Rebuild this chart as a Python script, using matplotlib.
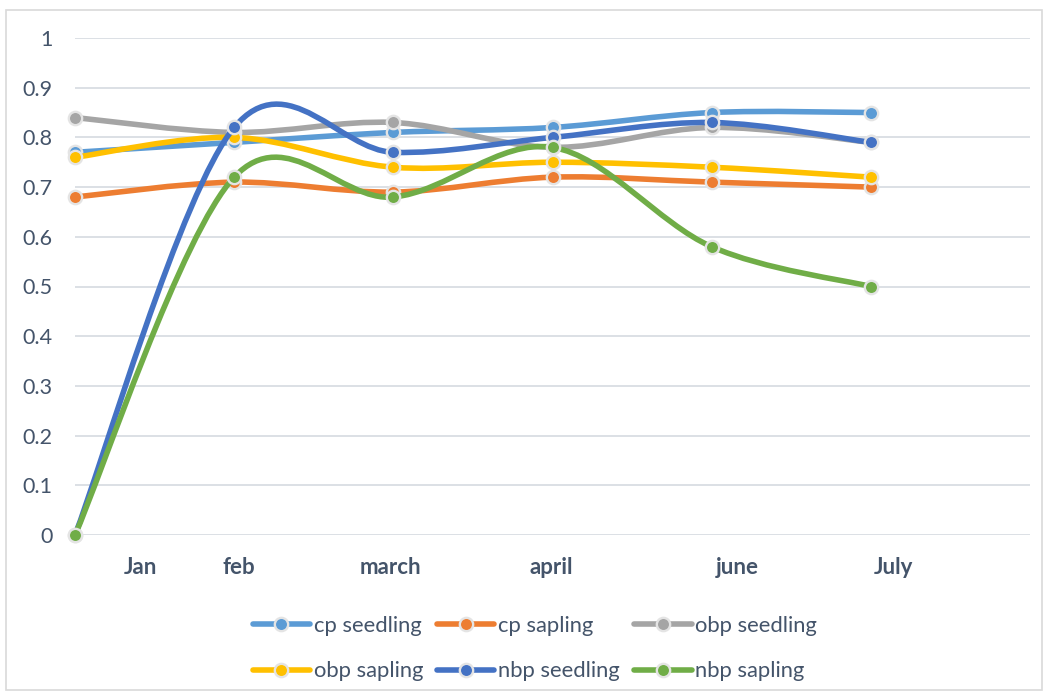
import numpy as np
import matplotlib.pyplot as plt
from matplotlib.path import Path
from matplotlib.patches import PathPatch, Rectangle
from matplotlib.lines import Line2D

plt.rcParams['font.family'] = ['Lato', 'DejaVu Sans']

# data
months = ["Jan", "feb", "march", "april", "june", "July"]
label_pos = [0.41, 1.03, 1.98, 2.99, 4.16, 5.14]
x_pts = [0, 1, 2, 3, 4, 5]

cp_seedling = [0.77, 0.79, 0.81, 0.82, 0.85, 0.85]
cp_sapling = [0.68, 0.71, 0.69, 0.72, 0.71, 0.70]
obp_seedling = [0.84, 0.81, 0.83, 0.78, 0.82, 0.79]
obp_sapling = [0.76, 0.80, 0.74, 0.75, 0.74, 0.72]
nbp_seedling = [0.0, 0.82, 0.77, 0.80, 0.83, 0.79]
nbp_sapling = [0.0, 0.72, 0.68, 0.78, 0.58, 0.50]

names = ["cp seedling", "cp sapling", "obp seedling",
         "obp sapling", "nbp seedling", "nbp sapling"]
series = [cp_seedling, cp_sapling, obp_seedling,
          obp_sapling, nbp_seedling, nbp_sapling]
colors = ["#5B9BD5", "#ED7D31", "#A5A5A5", "#FFC000", "#4472C4", "#70AD47"]

text_col = "#44546A"
grid_col = "#D9DDE3"
edge_col = "#E4E4E4"
LW = 4.0
MS = 9.6
MEW = 1.7


def smooth_path(xs, ys):
    # catmull-rom style bezier, like excel's smoothed line
    pts = np.column_stack([np.asarray(xs, float), np.asarray(ys, float)])
    n = len(pts)
    verts = [pts[0]]
    codes = [Path.MOVETO]
    for i in range(n - 1):
        p0 = pts[i - 1] if i > 0 else pts[i]
        p1 = pts[i]
        p2 = pts[i + 1]
        p3 = pts[i + 2] if i + 2 < n else pts[i + 1]
        c1 = p1 + (p2 - p0) / 6
        c2 = p2 - (p3 - p1) / 6
        verts += [c1, c2, p2]
        codes += [Path.CURVE4] * 3
    return Path(np.array(verts), codes)


W, H = 1048, 697
fig = plt.figure(figsize=(W / 100, H / 100), dpi=100)
ax_l, ax_r, ax_t, ax_b = 75, 1030, 38, 535
ax = fig.add_axes([ax_l / W, 1 - ax_b / H, (ax_r - ax_l) / W, (ax_b - ax_t) / H])
ax.set_xlim(0, 6.0)
ax.set_ylim(0, 1)

for s in ax.spines.values():
    s.set_visible(False)
ax.set_yticks(np.arange(0, 1.01, 0.1))
ax.set_yticklabels(["0", "0.1", "0.2", "0.3", "0.4", "0.5", "0.6", "0.7", "0.8", "0.9", "1"])
ax.grid(axis='y', color=grid_col, lw=1.3)
ax.set_axisbelow(True)
ax.tick_params(axis='y', length=0, pad=16, labelsize=15.5, labelcolor=text_col)

ax.set_xticks(label_pos)
ax.set_xticklabels(months, fontweight='bold')
ax.tick_params(axis='x', length=0, pad=15.5, labelsize=16, labelcolor=text_col)

for i, (name, ys, c) in enumerate(zip(names, series, colors)):
    p = smooth_path(x_pts, ys)
    ax.add_patch(PathPatch(p, facecolor='none', edgecolor=c, lw=LW,
                           capstyle='round', joinstyle='round',
                           zorder=3 + i * 2, clip_on=False))
    ax.plot(x_pts, ys, ls='none', marker='o', ms=MS, mfc=c, mec=edge_col,
            mew=MEW, zorder=4 + i * 2, clip_on=False)

handles = [Line2D([], [], color=c, lw=LW, marker='o', ms=MS, mfc=c,
                  mec=edge_col, mew=MEW, solid_capstyle='round')
           for c in colors]
order = [0, 3, 1, 4, 2, 5]
leg = fig.legend([handles[k] for k in order], [names[k] for k in order],
                 loc='center', bbox_to_anchor=(535 / W, 1 - 648.5 / H),
                 ncol=3, frameon=False, fontsize=15.8, handlelength=2.6,
                 handletextpad=0.18, columnspacing=0.65, labelspacing=1.16,
                 numpoints=1)
for txt in leg.get_texts():
    txt.set_color(text_col)

fig.patches.append(Rectangle((6 / W, 1 - 690 / H), (1042 - 6) / W, (690 - 10) / H,
                             transform=fig.transFigure, fill=False,
                             edgecolor="#D9D9D9", lw=1.2))

fig.savefig("out.png", dpi=100)
